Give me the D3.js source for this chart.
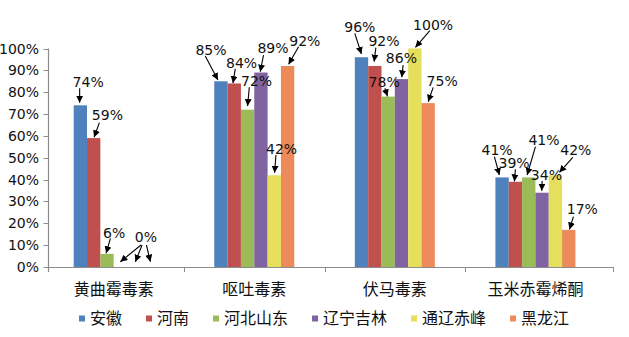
<!DOCTYPE html>
<html>
<head>
<meta charset="utf-8">
<script src="https://cdn.jsdelivr.net/npm/d3@7"></script>
<style>
  html, body { margin: 0; padding: 0; background: #fff; }
  svg { display: block; }
</style>
</head>
<body>
<svg id="chart" width="629" height="337"></svg>
<script>
// ---------------- data ----------------
const categories = ["黄曲霉毒素", "呕吐毒素", "伏马毒素", "玉米赤霉烯酮"];
const seriesNames = ["安徽", "河南", "河北山东", "辽宁吉林", "通辽赤峰", "黑龙江"];
const valuesAnhui            = [0.74, 0.85, 0.96, 0.41];
const valuesHenan            = [0.59, 0.84, 0.92, 0.39];
const valuesHebeiShandong    = [0.06, 0.72, 0.78, 0.41];
const valuesLiaoningJilin    = [0.00, 0.89, 0.86, 0.34];
const valuesTongliaoChifeng  = [0.00, 0.42, 1.00, 0.42];
const valuesHeilongjiang     = [0.00, 0.92, 0.75, 0.17];
const yTickValues = [0, 0.1, 0.2, 0.3, 0.4, 0.5, 0.6, 0.7, 0.8, 0.9, 1.0];

const seriesValues = [valuesAnhui, valuesHenan, valuesHebeiShandong,
                      valuesLiaoningJilin, valuesTongliaoChifeng, valuesHeilongjiang];

// ---------------- style / layout ----------------
const colors = ["#4F81BD", "#C0504D", "#9BBB59", "#8064A2", "#E6DF5C", "#EC8A5A"];
const W = 629, H = 337;
const plot = { left: 48.5, right: 613, top: 48.5, bottom: 267 };
const groupWidth = 80;
const latinFont = "'DejaVu Sans', Verdana, sans-serif";
const cjkFont = "'Noto Sans CJK SC', 'Noto Sans', sans-serif";

// annotation layout, offsets from bar top-centre: label [x,y] (null = shared label), arrow tail, arrow head
const labelLayout = [
  [ {l:[7.8,-23.3], t:[-0.7,-17], h:[-0.7,-2.6]},
    {l:[-9.9,-31.6], t:[-15.7,-25.3], h:[-3,-1.3]},
    {l:[-1.7,-30.2], t:[-6.7,-23.9], h:[-0.1,-3.2]},
    {l:[-5,-27.7], t:[-7.7,-20.7], h:[-2.7,-2.4]} ],
  [ {l:[13.7,-23.6], t:[5.7,-15.4], h:[0.4,-0.8]},
    {l:[7.3,-20.5], t:[1,-14.5], h:[-1.3,-0.4]},
    {l:[9.1,-25.5], t:[1,-18.3], h:[-0.7,-4.3]},
    {l:[-1.3,-18.8], t:[0,-12.5], h:[-1,-0.4]} ],
  [ {l:[7.1,-21.4], t:[3.4,-15.6], h:[-0.9,-0.6]},
    {l:[9,-28.7], t:[1.7,-22.4], h:[0,-3.7]},
    {l:[-4,-14.6], t:[-3.3,-8.3], h:[-0.7,-0.2]},
    {l:[15.2,-37.1], t:[6.7,-30.7], h:[-1.6,-2.4]} ],
  [ {l:[25.5,-30.3], t:[20.7,-22], h:[0,-5.3]},
    {l:[12.1,-25], t:[2.6,-17.5], h:[-0.7,-0.8]},
    {l:[-0.1,-21.1], t:[1.6,-14.1], h:[0.3,-1.8]},
    {l:[4.3,-18], t:[0,-11.7], h:[-0.3,-2]} ],
  [ {l:null, t:[8.4,-22], h:[1.7,-5.3]},
    {l:[7.3,-26.5], t:[1.7,-20.2], h:[0.3,-2.5]},
    {l:[18.3,-23.8], t:[15,-17.8], h:[0.6,-1.2]},
    {l:[20.4,-24.9], t:[17.4,-17.9], h:[4,-2.9]} ],
  [ {l:null, t:[-0.6,-22], h:[3.4,-5.3]},
    {l:[17.2,-25.5], t:[11,-19.3], h:[1,-1.7]},
    {l:[14,-22.6], t:[5,-15.8], h:[0,-1.4]},
    {l:[13.6,-20.4], t:[4.7,-13.2], h:[0.7,-0.4]} ]
];

// ---------------- scales ----------------
const x0 = d3.scaleBand().domain(categories).range([43.4, 605.7]).padding(0);
const x1 = d3.scaleBand().domain(seriesNames).range([0, groupWidth]).padding(0);
const y = d3.scaleLinear().domain([0, 1]).range([plot.bottom, plot.top]);
const pct = d3.format(".0%");

const svg = d3.select("#chart");
svg.append("rect").attr("width", W).attr("height", H).attr("fill", "#fff");

const defs = svg.append("defs");
defs.append("marker")
  .attr("id", "arrow")
  .attr("markerUnits", "userSpaceOnUse")
  .attr("markerWidth", 8).attr("markerHeight", 7)
  .attr("refX", 7).attr("refY", 3.5)
  .attr("orient", "auto")
  .append("path").attr("d", "M0,0 L7,3.5 L0,7 Z").attr("fill", "#000");

const barX = (ci, si) => x0(categories[ci]) + (x0.bandwidth() - groupWidth) / 2 + x1(seriesNames[si]);

// ---------------- bars ----------------
const barData = [];
seriesValues.forEach((vals, si) => vals.forEach((v, ci) => barData.push({si, ci, v})));

svg.append("g").selectAll("rect").data(barData).join("rect")
  .attr("x", d => barX(d.ci, d.si))
  .attr("width", x1.bandwidth())
  .attr("y", d => y(d.v))
  .attr("height", d => y(0) - y(d.v))
  .attr("fill", d => colors[d.si]);

// ---------------- axes ----------------
const axisColor = "#8c8c8c";
const yAxisG = svg.append("g");
yAxisG.append("line")
  .attr("x1", plot.left).attr("x2", plot.left)
  .attr("y1", y(1)).attr("y2", y(0) + 5)
  .attr("stroke", axisColor).attr("stroke-width", 1.2);
yAxisG.selectAll("line.tick").data(yTickValues).join("line")
  .attr("class", "tick")
  .attr("x1", plot.left - 5).attr("x2", plot.left)
  .attr("y1", d => Math.round(y(d)) + 0.5).attr("y2", d => Math.round(y(d)) + 0.5)
  .attr("stroke", axisColor).attr("stroke-width", 1);
yAxisG.selectAll("text").data(yTickValues).join("text")
  .attr("x", 39).attr("y", d => y(d)).attr("dy", "0.36em")
  .attr("text-anchor", "end")
  .attr("font-family", latinFont).attr("font-size", 14).attr("fill", "#111")
  .text(d => pct(d));

const xAxisG = svg.append("g");
xAxisG.append("line")
  .attr("x1", plot.left).attr("x2", plot.right)
  .attr("y1", plot.bottom + 0.5).attr("y2", plot.bottom + 0.5)
  .attr("stroke", axisColor).attr("stroke-width", 1.2);
const xTickPos = categories.slice(1).map(c => x0(c)).concat([plot.right]);
xAxisG.selectAll("line.tick").data(xTickPos).join("line")
  .attr("class", "tick")
  .attr("x1", d => Math.round(d) + 0.5).attr("x2", d => Math.round(d) + 0.5)
  .attr("y1", plot.bottom).attr("y2", plot.bottom + 5)
  .attr("stroke", axisColor).attr("stroke-width", 1);
xAxisG.selectAll("text").data(categories).join("text")
  .attr("x", d => x0(d) + x0.bandwidth() / 2)
  .attr("y", 289.5).attr("dy", "0.36em")
  .attr("text-anchor", "middle")
  .attr("font-family", cjkFont).attr("font-size", 16).attr("fill", "#111")
  .text(d => d);

// ---------------- data labels with arrows ----------------
const annG = svg.append("g");
barData.forEach(d => {
  const lay = labelLayout[d.si][d.ci];
  const cx = barX(d.ci, d.si) + x1.bandwidth() / 2;
  const top = y(d.v);
  annG.append("line")
    .attr("x1", cx + lay.t[0]).attr("y1", top + lay.t[1])
    .attr("x2", cx + lay.h[0]).attr("y2", top + lay.h[1])
    .attr("stroke", "#000").attr("stroke-width", 1.1)
    .attr("marker-end", "url(#arrow)");
  if (lay.l) {
    annG.append("text")
      .attr("x", cx + lay.l[0]).attr("y", top + lay.l[1]).attr("dy", "0.36em")
      .attr("text-anchor", "middle")
      .attr("font-family", latinFont).attr("font-size", 14).attr("fill", "#111")
      .text(pct(d.v));
  }
});

// ---------------- legend ----------------
const legend = svg.append("g");
let lx = 79;
const legendY = 318.5;
seriesNames.forEach((name, i) => {
  legend.append("rect")
    .attr("x", lx).attr("y", legendY - 3).attr("width", 6).attr("height", 6)
    .attr("fill", colors[i]);
  const t = legend.append("text")
    .attr("x", lx + 11).attr("y", legendY).attr("dy", "0.36em")
    .attr("font-family", cjkFont).attr("font-size", 16).attr("fill", "#111")
    .text(name);
  const w = t.node().getComputedTextLength();
  lx += 11 + w + 24;
});
</script>
</body>
</html>
